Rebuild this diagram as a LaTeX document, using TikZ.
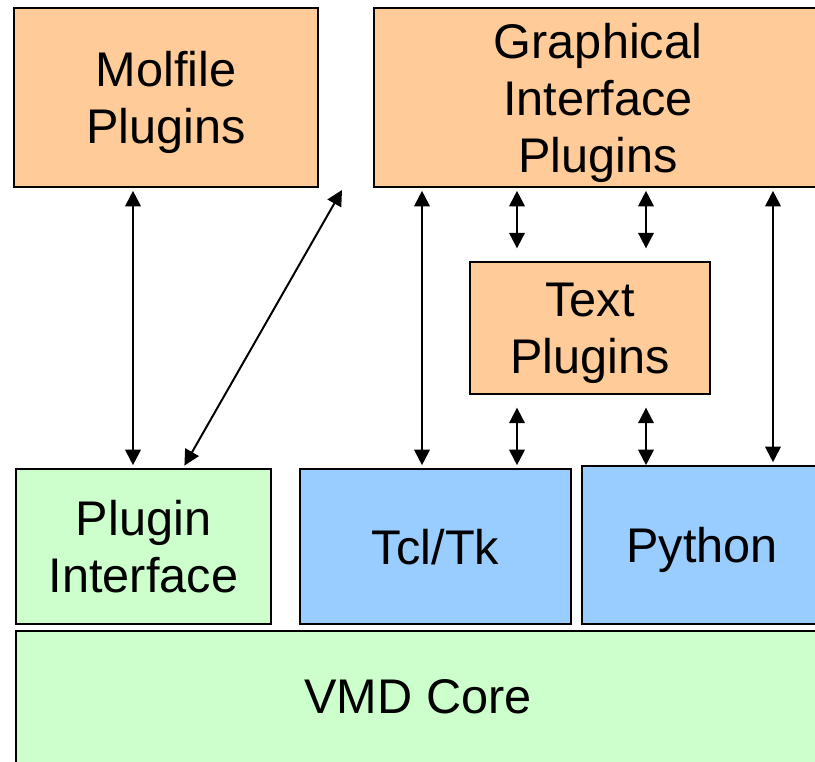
\documentclass[tikz,border=0pt]{standalone}
\usepackage{fontspec}
\setmainfont{Liberation Sans}
\usetikzlibrary{arrows.meta, positioning}

\definecolor{plugorange}{HTML}{FFCC99}
\definecolor{coregreen}{HTML}{CCFFCC}
\definecolor{scriptblue}{HTML}{99CCFF}

\tikzset{
  block/.style={draw, line width=1.4pt, align=center, inner sep=0pt, text depth=0pt,
                font=\fontsize{34.6}{40.6}\selectfont},
  biarrow/.style={line width=1.4pt, shorten <=2pt, shorten >=2pt,
                  {Triangle[length=11pt,width=11pt]}-{Triangle[length=11pt,width=11pt]}},
}

\begin{document}
\begin{tikzpicture}[x=0.025cm, y=-0.025cm]
    \useasboundingbox (0,0) rectangle (815,762);
    \clip (0,0) rectangle (815,762);

    % plugins on top
    \node[block, fill=plugorange, minimum width=7.6cm, minimum height=4.475cm]
         (molfile) at (166,97.5) {Molfile\\Plugins};
    \node[block, fill=plugorange, minimum width=11.2cm, minimum height=4.475cm]
         (graphical) at (598,97.5) {Graphical\\Interface\\Plugins};
    \node[block, fill=plugorange, minimum width=6cm, minimum height=3.3cm]
         (text) at (590,328) {Text\\Plugins};

    % interfaces
    \node[block, fill=coregreen, minimum width=6.375cm, minimum height=3.875cm]
         (plugif) at (143.5,546.5) {Plugin\\Interface};
    \node[block, fill=scriptblue, minimum width=6.775cm, minimum height=3.875cm]
         (tcl) at (435.5,546.5) {Tcl/Tk};
    \node[block, fill=scriptblue, minimum width=6cm, minimum height=3.95cm]
         (python) at (702,545) {Python};
    \node[block, fill=coregreen, minimum width=20.1cm, minimum height=3.3cm]
         (core) at (418,697) {VMD Core};

    \coordinate (gap) at (342,190);

    % connections
    \draw[biarrow] (molfile.south -| 133,0) -- (plugif.north -| 133,0);
    \draw[biarrow, shorten >=0pt] (plugif.north -| 183,0) -- (gap);
    \draw[biarrow] (graphical.south -| 422,0) -- (tcl.north -| 422,0);
    \draw[biarrow] (graphical.south -| 773,0) -- (python.north -| 773,0);
    \foreach \x in {517,646}
    {
        \draw[biarrow, shorten >=9pt] (graphical.south -| \x,0) -- (text.north -| \x,0);
        \draw[biarrow, shorten <=9pt] (text.south -| \x,0) -- (tcl.north -| \x,0);
    }
\end{tikzpicture}
\end{document}
